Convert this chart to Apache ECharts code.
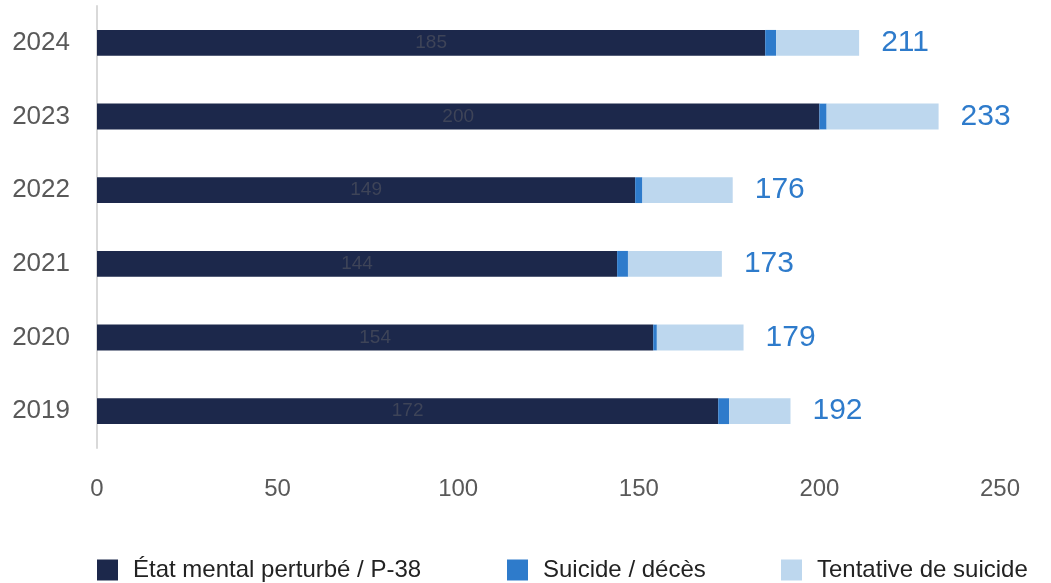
<!DOCTYPE html>
<html>
<head>
    <meta charset="UTF-8">
    <title>interventions</title>
    <script src="https://cdn.jsdelivr.net/npm/echarts@6/dist/echarts.min.js"></script>
    <style>
        body, html {
            margin: 0;
            padding: 0;
            height: 100%;
            width: 100%;
            background: #fff;
        }

        #chart {
            width: 1051px;
            height: 583px;
        }
    </style>
</head>
<body>
<div id="chart"></div>
<script>
    // données (de bas en haut)
    var years = ['2019', '2020', '2021', '2022', '2023', '2024'];
    var etatMental = [172, 154, 144, 149, 200, 185];
    var suicideDeces = [3, 1, 3, 2, 2, 3];
    var tentative = [17, 24, 26, 25, 31, 23];
    var totals = [192, 179, 173, 176, 233, 211];
    var xTicks = [0, 50, 100, 150, 200, 250];
    var seriesNames = ['État mental perturbé / P-38', 'Suicide / décès', 'Tentative de suicide'];

    var chart = echarts.init(document.getElementById('chart'), null, {renderer: 'canvas'});

    // une légende par série pour caler les positions
    var legendLefts = [97, 507, 781];
    var legends = seriesNames.map(function (n, i) {
        return {
            top: 558,
            left: legendLefts[i],
            padding: 0,
            itemWidth: 21,
            itemHeight: 21,
            itemGap: 14,
            icon: 'rect',
            textStyle: {
                fontSize: 24,
                color: '#222',
                padding: [0, 0, 0, 10]
            },
            data: [n]
        };
    });

    var option = {
        animation: false,
        textStyle: {fontFamily: 'Liberation Sans, Arial, sans-serif'},
        grid: {left: 97, right: 51, top: 6, bottom: 135, containLabel: false},
        legend: legends,
        xAxis: {
            type: 'value',
            min: xTicks[0],
            max: xTicks[xTicks.length - 1],
            interval: 50,
            axisLine: {show: false},
            axisTick: {show: false},
            splitLine: {show: false},
            axisLabel: {
                color: '#595959',
                fontSize: 24,
                margin: 29
            }
        },
        yAxis: {
            type: 'category',
            data: years,
            axisLine: {show: true, lineStyle: {color: '#d9d9d9', width: 2}},
            axisTick: {show: false},
            axisLabel: {color: '#595959', fontSize: 26, margin: 27}
        },
        series: [
            {
                name: seriesNames[0],
                type: 'bar',
                stack: 'total',
                barWidth: '35%',
                data: etatMental,
                itemStyle: {color: '#1C284B'},
                label: {
                    show: true,
                    position: 'inside',
                    color: '#3E4458',
                    fontSize: 19
                }
            },
            {
                name: seriesNames[1],
                type: 'bar',
                stack: 'total',
                data: suicideDeces,
                itemStyle: {color: '#2E7BCB'}
            },
            {
                name: seriesNames[2],
                type: 'bar',
                stack: 'total',
                data: tentative,
                itemStyle: {color: '#BDD7EE'},
                label: {
                    show: true,
                    position: 'right',
                    distance: 22,
                    color: '#2E7BCB',
                    fontSize: 30,
                    formatter: function (p) {
                        return totals[p.dataIndex];
                    }
                }
            }
        ]
    };

    chart.setOption(option);
</script>
</body>
</html>
